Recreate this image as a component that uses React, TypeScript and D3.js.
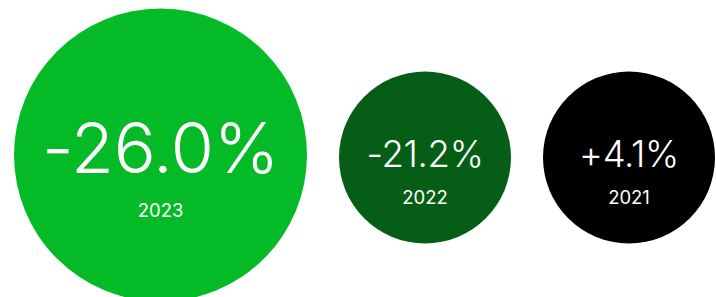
import React from 'react';
import * as d3 from 'd3';

// year-on-year change, latest year first
const years = ['2023', '2022', '2021'];
const changes = [-26.0, -21.2, 4.1];
const colors = ['#04bb27', '#065e16', '#000000'];

const W = 716;
const H = 297;

export default function App() {
  const fmt = d3.format('+.1f');
  // first (latest) bubble is the highlighted big one
  const radius = (i: number) => (i === 0 ? 146.5 : 86);
  const cy = (i: number) => (i === 0 ? 155 : 157.5);
  const gap = 32;

  // pack circles left to right
  const cx: number[] = [];
  let left = 14;
  years.forEach((_, i) => {
    cx.push(left + radius(i));
    left += radius(i) * 2 + gap;
  });

  const label = (v: number) => (v < 0 ? '-' + d3.format('.1f')(-v) : fmt(v)) + '%';

  return (
    <svg width={W} height={H} style={{position: 'absolute', left: 0, top: 0}}
      fontFamily="Inter, 'Liberation Sans', sans-serif">
      {years.map((y, i) => {
        const big = i === 0;
        return (
          <g key={y} transform={`translate(${cx[i]},${cy(i)})`}>
            <circle r={radius(i)} fill={colors[i]} />
            <text y={big ? 17.7 : 9.8} textAnchor="middle" fill="#fff"
              fontSize={big ? 70 : 36.5} fontWeight={300} letterSpacing={big ? -0.3 : -0.3}>
              {label(changes[i])}
            </text>
            <text y={big ? 62 : 46.5} textAnchor="middle" fill="#fff"
              fontSize={18.5} fontWeight={400}>
              {y}
            </text>
          </g>
        );
      })}
    </svg>
  );
}
